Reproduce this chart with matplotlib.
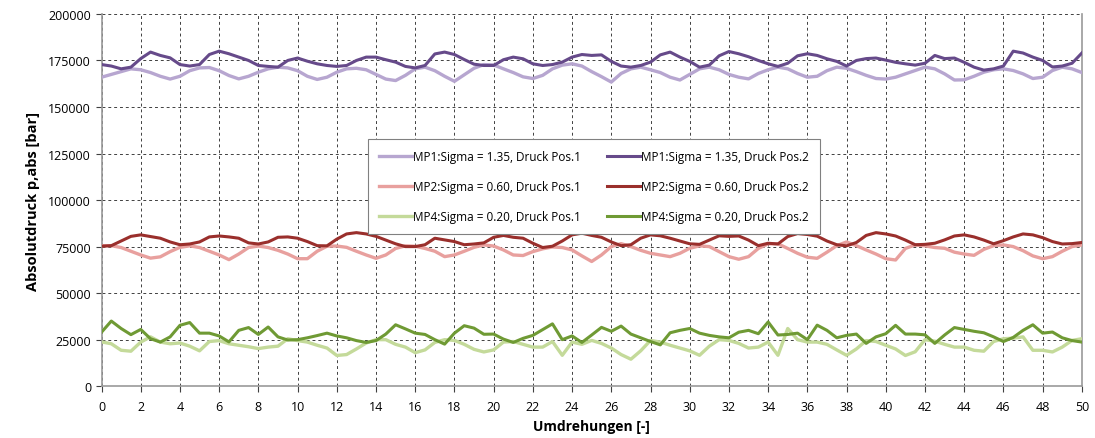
import matplotlib
matplotlib.use("Agg")
import matplotlib.pyplot as plt
import numpy as np

# x positions (Umdrehungen), step 0.5
umdrehungen = [i * 0.5 for i in range(101)]

# values in thousands of bar
mp1_pos1 = [166.0, 167.5, 169, 170.5, 170, 168.5, 166.5, 165, 166.5, 169.5, 171, 171.2, 169.5, 166.9, 165.1, 166.5, 168.7, 170.5, 171.4, 171, 169.5, 166.5, 164.8, 166, 168.7, 170.5, 170.8, 170, 167.5, 165, 164.2, 167, 170.5, 171.4, 169.5,
            166.5, 163.8, 167.3, 170.8, 172.8, 172.6, 170.5, 168.5, 166.2, 165.3, 167, 170.5, 172.5, 173.2, 172, 169, 166.3, 163.4, 168, 170.5, 171.4, 170, 168.5, 166, 164.5, 167.5, 170.5, 171.4, 170, 167.5, 166, 165.1, 168,
            170, 171.4, 170.5, 168, 166, 166.5, 169.5, 171.4, 170.8, 169, 167, 165.3, 165, 166, 167.8, 169.6, 171.4, 170.5, 167.8, 164.5, 164.6, 166.5, 168.7, 170, 170.5, 169.6, 167.8, 165.3, 166, 169.6, 171.4, 170.5, 168.5]
mp1_pos2 = [172.8, 172, 170.5, 171.4, 176, 179.5, 177.7, 176.4, 172.8, 172, 172.8, 178.2, 180, 178.6, 176.8, 175, 172.3, 171.8, 171.4, 175, 176.3, 174.6, 173.2, 172.3, 171.8, 172.3, 175, 176.8, 176.8, 175.4, 174.1, 171.8, 171, 172.3, 178.5,
            179.5, 178.2, 175.5, 173, 172.3, 172.3, 175.4, 176.8, 175.9, 173.2, 172.3, 172.8, 174.1, 176.8, 178.2, 177.7, 178, 174.5, 172, 171.4, 172.3, 174.1, 178, 179.5, 176.8, 174.5, 171.4, 172.5, 177.5, 179.8, 178.6, 177, 175,
            173.2, 171.8, 173.5, 177.5, 178.6, 177.7, 175.9, 174.5, 172, 175, 176, 176.3, 175.2, 174, 173.2, 172.5, 173.5, 177.7, 176, 176.3, 174, 171.4, 169.8, 170.5, 172, 180, 179, 176.8, 175, 171.5, 172, 173.5, 179]
mp2_pos1 = [75.5, 75.5, 74.5, 72.5, 70.5, 68.8, 69.5, 72.3, 74.6, 75.4, 74.5, 72.5, 70.5, 68, 71, 74.5, 75.3, 74.5, 73, 71, 68.5, 68.5, 72.5, 75.2, 75.3, 74.6, 72.5, 70.5, 68.7, 70.5, 74, 75.4, 75.2, 74, 72.5,
            69.6, 70.5, 72.5, 74.6, 75.9, 75.3, 73.2, 70.5, 70.2, 72.3, 73.8, 74.8, 74.5, 73.2, 70, 67, 70.5, 75, 76.6, 75, 73, 71.4, 70.5, 69.6, 71.4, 74.1, 75.4, 75, 72.3, 69.6, 68.2, 69.6, 74,
            76.5, 76.5, 74, 71.4, 69.3, 68.7, 72, 75.5, 77.5, 75.5, 73.2, 71, 68.5, 67.8, 74, 75.9, 75.4, 74.5, 74.1, 72, 71, 70.3, 73.5, 75.5, 75.9, 75, 72.8, 70, 68.5, 69.6, 72.5, 75, 75.9]
mp2_pos2 = [75.2, 75.5, 78, 80.5, 81.3, 80.4, 79.5, 77.5, 76, 76.4, 77.5, 80.2, 80.7, 80.2, 79.5, 77, 76.4, 77.5, 80, 80.2, 79.5, 77.7, 75.5, 75.4, 79, 81.8, 82.5, 81.8, 80.5, 78.5, 76.5, 75, 75, 76, 79.5,
            78.6, 77.7, 76, 76.4, 77, 80, 81, 80, 79.5, 76.8, 74.5, 75.2, 78, 81.3, 82.2, 81, 80, 77.5, 75.5, 76, 79.5, 81.3, 80.8, 79.5, 78, 76.5, 76.2, 78.5, 80.8, 80.5, 80.7, 78.5, 75.5,
            76.8, 76.4, 80.4, 82, 81.5, 80.6, 78, 76, 75.4, 77.2, 81, 82.5, 81.8, 80.7, 78.5, 76, 76.2, 76.8, 78.6, 80.7, 81.3, 80.2, 78.5, 76.5, 78.2, 80.2, 81.8, 81.3, 79.8, 77.7, 76.4, 76.6, 77.2]
mp4_pos1 = [23.8, 22.8, 19.3, 18.8, 23.7, 26.5, 23.7, 22.8, 23.2, 21.5, 19, 24, 24.5, 22.8, 22, 21.2, 20.2, 21, 21.5, 25.5, 24.5, 23.7, 22, 20.5, 16.5, 17, 20, 23.2, 25, 25, 22.5, 21, 18, 19.5, 23.5,
            25, 24.6, 22.5, 19.8, 18.4, 19.5, 23.7, 24, 22.5, 21, 21, 24, 16.6, 23.7, 22.5, 24.6, 23, 20.5, 17, 14.5, 19, 24.6, 23.7, 22, 20.5, 19, 16.6, 21.5, 25, 24.6, 23, 20.5, 21,
            23.7, 16.6, 31, 25, 23.7, 23.7, 22.5, 19.5, 16.6, 20, 24.5, 24, 22, 20, 16.5, 18.5, 25, 24.2, 22.5, 21, 21, 19.3, 18.8, 24, 25.5, 25.8, 26.5, 19.3, 19.3, 18.4, 21, 24.6, 25.5]
mp4_pos2 = [29, 35, 31, 27.7, 30.5, 25.5, 23.7, 26.5, 32.7, 34.2, 28.5, 28.5, 27, 23.8, 30, 31.5, 27.8, 31.8, 26.5, 24.8, 25, 26, 27.2, 28.5, 27, 26, 24.5, 23.5, 24.5, 28, 33, 30.8, 28.5, 27.8, 25,
            22.6, 28.5, 32.5, 31.2, 27.9, 28, 25.3, 23.5, 25.7, 27.3, 30.4, 33.5, 25, 27, 23.5, 27.5, 31.6, 29.5, 32.3, 28, 26, 24, 22.2, 28.7, 30, 31, 28.5, 27.3, 26.5, 26, 29, 30, 28.2,
            34.5, 27.5, 27.8, 28.5, 25, 32.8, 30, 26, 27.3, 28, 23, 26.5, 28.2, 32.7, 28, 28, 27.6, 23, 27.5, 31.5, 30.5, 29.5, 28.7, 26.5, 24, 26.2, 30, 33, 28.5, 29.1, 26, 24.5, 23.7]

labels_pos1 = ["MP1:Sigma = 1.35, Druck Pos.1", "MP2:Sigma = 0.60, Druck Pos.1", "MP4:Sigma = 0.20, Druck Pos.1"]
labels_pos2 = ["MP1:Sigma = 1.35, Druck Pos.2", "MP2:Sigma = 0.60, Druck Pos.2", "MP4:Sigma = 0.20, Druck Pos.2"]
colors_pos1 = ["#b7a6d0", "#e8a09e", "#c4da9a"]
colors_pos2 = ["#664a8a", "#9a2f2c", "#6f9a34"]

x_ticks = list(range(0, 51, 2))
y_ticks = list(range(0, 200001, 25000))

plt.rcParams['font.family'] = ['Open Sans', 'DejaVu Sans']

fig = plt.figure(figsize=(10.95, 4.39), dpi=100)
ax = fig.add_axes([0.0927, 0.118, 0.8953, 0.848])

x = np.array(umdrehungen)
series_pos1 = [mp1_pos1, mp2_pos1, mp4_pos1]
series_pos2 = [mp1_pos2, mp2_pos2, mp4_pos2]
handles1, handles2 = [], []
for s, c, l in zip(series_pos1, colors_pos1, labels_pos1):
    h, = ax.plot(x, np.array(s) * 1000, color=c, lw=2.4, label=l, zorder=3)
    handles1.append(h)
for s, c, l in zip(series_pos2, colors_pos2, labels_pos2):
    h, = ax.plot(x, np.array(s) * 1000, color=c, lw=2.2, label=l, zorder=4)
    handles2.append(h)

ax.set_xlim(0, 50)
ax.set_ylim(0, 200000)
ax.set_xticks(x_ticks)
ax.set_yticks(y_ticks)
ax.tick_params(axis='both', labelsize=9, colors='#404040', length=4, width=0.8)
ax.tick_params(axis='x', pad=6)
for lab in ax.get_xticklabels() + ax.get_yticklabels():
    lab.set_color('black')
ax.grid(True, linestyle=(0, (3, 3)), color='#404040', linewidth=0.7)
ax.set_axisbelow(True)
for sp in ['left', 'bottom', 'right']:
    ax.spines[sp].set_color('#999999')
    ax.spines[sp].set_linewidth(1.2)
ax.spines['top'].set_visible(False)

ax.set_xlabel("Umdrehungen [-]", fontsize=10, fontweight='bold', labelpad=4)
ax.set_ylabel("Absolutdruck p,abs [bar]", fontsize=10.5, fontweight='bold', labelpad=6)

leg = ax.legend(handles1 + handles2, labels_pos1 + labels_pos2, ncol=2,
                loc='center', bbox_to_anchor=(0.5025, 0.537), fontsize=8.5,
                frameon=True, fancybox=False, edgecolor='#808080', framealpha=1,
                labelspacing=1.45, columnspacing=2.2, handlelength=2.8,
                handletextpad=0.1, borderpad=0.9)
leg.get_frame().set_linewidth(0.8)

fig.savefig("out.png", dpi=100)
